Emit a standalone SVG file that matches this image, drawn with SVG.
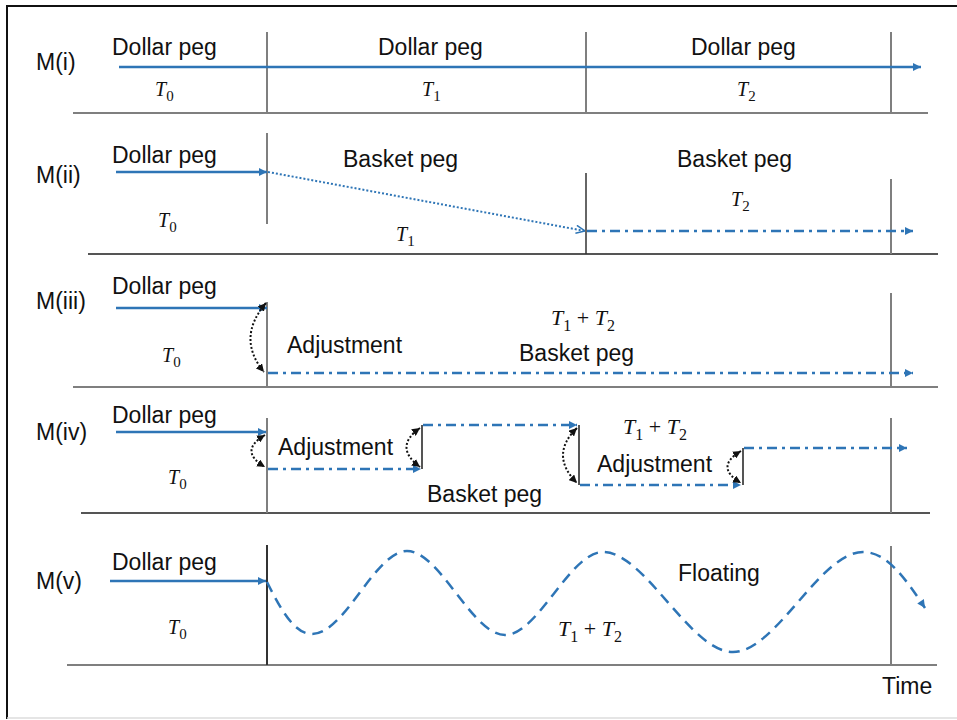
<svg xmlns="http://www.w3.org/2000/svg" width="957" height="720" viewBox="0 0 957 720">
<style>
.lbl{font-family:"Liberation Sans",Arial,sans-serif;font-size:23px;fill:#111}
.t{font-family:"Liberation Serif","Times New Roman",serif;font-size:20px;fill:#111}
.tb{font-family:"Liberation Serif","Times New Roman",serif;font-size:22px;fill:#111}
.it{font-style:italic}
.g{stroke:#7F7F7F;stroke-width:2;fill:none}
.gd{stroke:#555;stroke-width:2;fill:none}
.b{stroke:#2E75B6;stroke-width:2.5;fill:none}
.dd{stroke:#2E75B6;stroke-width:2.5;fill:none;stroke-dasharray:10 5 3 5}
.dot{stroke:#2E75B6;stroke-width:2;fill:none;stroke-dasharray:2 2}
.dash{stroke:#2E75B6;stroke-width:2.5;fill:none;stroke-dasharray:11 7}
.arc{stroke:#111;stroke-width:2;fill:none;stroke-dasharray:2 2}
</style>
<defs>
<marker id="ab" viewBox="0 0 10 10" refX="10" refY="5" markerWidth="9" markerHeight="8" markerUnits="userSpaceOnUse" orient="auto"><path d="M0,0 L10,5 L0,10 z" fill="#2E75B6"/></marker>
<marker id="ao" viewBox="0 0 10 10" refX="10" refY="5" markerWidth="10" markerHeight="10" markerUnits="userSpaceOnUse" orient="auto"><path d="M1,1 L10,5 L1,9" fill="none" stroke="#2E75B6" stroke-width="1.5"/></marker>
<marker id="ak" viewBox="0 0 10 10" refX="10" refY="5" markerWidth="8" markerHeight="8" markerUnits="userSpaceOnUse" orient="auto-start-reverse"><path d="M0,0 L10,5 L0,10 z" fill="#111"/></marker>
</defs>
<rect width="957" height="720" fill="#fff"/>
<g id="frame">
<line x1="7" y1="6" x2="957" y2="6" stroke="#111" stroke-width="2"/>
<line x1="7" y1="5" x2="7" y2="719" stroke="#111" stroke-width="2"/>
<line x1="7" y1="718" x2="957" y2="718" stroke="#ddd" stroke-width="1.5"/>
</g>

<g id="axes">
<!-- M(i) -->
<line class="g" x1="73" y1="113" x2="928" y2="113"/>
<line class="g" x1="267" y1="32" x2="267" y2="113"/>
<line class="g" x1="586" y1="32" x2="586" y2="113"/>
<line class="g" x1="891" y1="32" x2="891" y2="113"/>
<!-- M(ii) -->
<line class="gd" x1="88" y1="254" x2="938" y2="254"/>
<line class="g" x1="267" y1="133" x2="267" y2="224"/>
<line stroke="#333" stroke-width="1.5" x1="586" y1="173" x2="586" y2="254"/>
<line class="g" x1="891" y1="179" x2="891" y2="254"/>
<!-- M(iii) -->
<line class="g" x1="73" y1="387" x2="938" y2="387"/>
<line class="g" x1="267" y1="302" x2="267" y2="387"/>
<line class="g" x1="891" y1="293" x2="891" y2="387"/>
<!-- M(iv) -->
<line class="gd" x1="81" y1="513" x2="930" y2="513"/>
<line class="g" x1="267" y1="418" x2="267" y2="513"/>
<line class="g" x1="891" y1="418" x2="891" y2="513"/>
<line class="gd" x1="422" y1="425" x2="422" y2="469"/>
<line class="gd" x1="579" y1="425" x2="579" y2="485"/>
<line class="gd" x1="743" y1="448" x2="743" y2="485"/>
<!-- M(v) -->
<line class="g" x1="67" y1="665" x2="937" y2="665"/>
<line stroke="#333" stroke-width="2" x1="267" y1="545" x2="267" y2="665"/>
<line class="g" x1="891" y1="546" x2="891" y2="665"/>
</g>

<g id="connectors">
<!-- M(i) -->
<line class="b" x1="119" y1="67" x2="921" y2="67" marker-end="url(#ab)"/>
<!-- M(ii) -->
<line class="b" x1="116" y1="172" x2="267" y2="172" marker-end="url(#ab)"/>
<line class="dot" x1="268" y1="172" x2="585" y2="231" marker-end="url(#ao)"/>
<line class="dd" x1="587" y1="231" x2="913" y2="231" marker-end="url(#ab)"/>
<!-- M(iii) -->
<line class="b" x1="116" y1="308" x2="267" y2="308" marker-end="url(#ab)"/>
<path class="arc" d="M266,303 Q236,338 264,372" marker-start="url(#ak)" marker-end="url(#ak)"/>
<line class="dd" x1="268" y1="373" x2="913" y2="373" marker-end="url(#ab)"/>
<!-- M(iv) -->
<line class="b" x1="116" y1="432" x2="266" y2="432" marker-end="url(#ab)"/>
<path class="arc" d="M265,435 Q238,451 265,467" marker-start="url(#ak)" marker-end="url(#ak)"/>
<line class="dd" x1="268" y1="469" x2="421" y2="469" marker-end="url(#ab)"/>
<path class="arc" d="M420,428 Q393,447 420,467" marker-start="url(#ak)" marker-end="url(#ak)"/>
<line class="dd" x1="423" y1="425" x2="577" y2="425" marker-end="url(#ab)"/>
<path class="arc" d="M577,428 Q549,455 577,483" marker-start="url(#ak)" marker-end="url(#ak)"/>
<line class="dd" x1="580" y1="485" x2="741" y2="485" marker-end="url(#ab)"/>
<path class="arc" d="M741,451 Q714,467 741,483" marker-start="url(#ak)" marker-end="url(#ak)"/>
<line class="dd" x1="744" y1="448" x2="907" y2="448" marker-end="url(#ab)"/>
<!-- M(v) -->
<line class="b" x1="110" y1="581" x2="266" y2="581" marker-end="url(#ab)"/>
<path class="dash" d="M267,582 C282,612 295,634 312,634 C345,634 375,551 407,551 C440,551 472,635 505,635 C538,635 570,552 603,552 C645,552 690,652 733,652 C776,652 820,552 863,552 C887,552 905,578 925,608" marker-end="url(#ab)"/>
</g>

<g id="panel-i">
<text class="lbl" x="36" y="70">M(i)</text>
<text class="lbl" x="112" y="55">Dollar peg</text>
<text class="lbl" x="378" y="55">Dollar peg</text>
<text class="lbl" x="691" y="55">Dollar peg</text>
<text class="t" x="155" y="96"><tspan class="it">T</tspan><tspan font-size="15" dy="5">0</tspan></text>
<text class="t" x="422" y="96"><tspan class="it">T</tspan><tspan font-size="15" dy="5">1</tspan></text>
<text class="t" x="737" y="96"><tspan class="it">T</tspan><tspan font-size="15" dy="5">2</tspan></text>
</g>

<g id="panel-ii">
<text class="lbl" x="36" y="183">M(ii)</text>
<text class="lbl" x="112" y="163">Dollar peg</text>
<text class="lbl" x="343" y="167">Basket peg</text>
<text class="lbl" x="677" y="167">Basket peg</text>
<text class="t" x="158" y="227"><tspan class="it">T</tspan><tspan font-size="15" dy="5">0</tspan></text>
<text class="t" x="396" y="241"><tspan class="it">T</tspan><tspan font-size="15" dy="5">1</tspan></text>
<text class="t" x="731" y="206"><tspan class="it">T</tspan><tspan font-size="15" dy="5">2</tspan></text>
</g>

<g id="panel-iii">
<text class="lbl" x="36" y="309">M(iii)</text>
<text class="lbl" x="112" y="294">Dollar peg</text>
<text class="lbl" x="287" y="353" font-size="21">Adjustment</text>
<text class="lbl" x="519" y="361">Basket peg</text>
<text class="t" x="162" y="362"><tspan class="it">T</tspan><tspan font-size="15" dy="5">0</tspan></text>
<text class="tb" x="551" y="325"><tspan class="it">T</tspan><tspan font-size="16" dy="6">1</tspan><tspan dy="-6"> + </tspan><tspan class="it">T</tspan><tspan font-size="16" dy="6">2</tspan></text>
</g>

<g id="panel-iv">
<text class="lbl" x="36" y="440">M(iv)</text>
<text class="lbl" x="112" y="423">Dollar peg</text>
<text class="lbl" x="278" y="455">Adjustment</text>
<text class="lbl" x="597" y="472">Adjustment</text>
<text class="lbl" x="427" y="502">Basket peg</text>
<text class="t" x="168" y="484"><tspan class="it">T</tspan><tspan font-size="15" dy="5">0</tspan></text>
<text class="tb" x="623" y="434"><tspan class="it">T</tspan><tspan font-size="16" dy="6">1</tspan><tspan dy="-6"> + </tspan><tspan class="it">T</tspan><tspan font-size="16" dy="6">2</tspan></text>
</g>

<g id="panel-v">
<text class="lbl" x="36" y="589">M(v)</text>
<text class="lbl" x="112" y="570">Dollar peg</text>
<text class="lbl" x="678" y="581">Floating</text>
<text class="t" x="168" y="634"><tspan class="it">T</tspan><tspan font-size="15" dy="5">0</tspan></text>
<text class="tb" x="558" y="636"><tspan class="it">T</tspan><tspan font-size="16" dy="6">1</tspan><tspan dy="-6"> + </tspan><tspan class="it">T</tspan><tspan font-size="16" dy="6">2</tspan></text>
<text class="lbl" x="882" y="694">Time</text>
</g>
</svg>
